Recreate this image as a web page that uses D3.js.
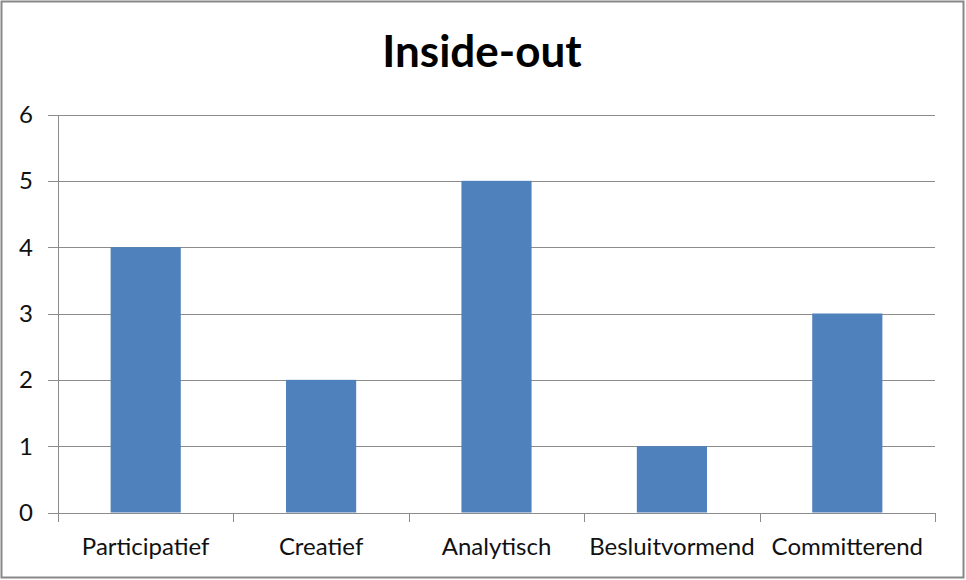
<!DOCTYPE html>
<html><head><meta charset="utf-8">
<script src="https://cdn.jsdelivr.net/npm/d3@7"></script>
<style>html,body{margin:0;padding:0;background:#fff;}</style>
</head><body>
<svg id="c" width="966" height="580"></svg>
<script>
const categories = ["Participatief","Creatief","Analytisch","Besluitvormend","Committerend"];
const values = [4,2,5,1,3];
const yTicks = [0,1,2,3,4,5,6];
const title = "Inside-out";

(function(){
const svg = d3.select("#c");
const W = 966, H = 580;
const pLeft = 58, pRight = 935, pTop = 114.5, pBottom = 512.5;

svg.append("rect").attr("x",1.5).attr("y",1.5).attr("width",W-4).attr("height",H-4)
  .attr("fill","#fff").attr("stroke","#888").attr("stroke-width",2);

const x = d3.scaleBand().domain(categories).range([pLeft,pRight]).paddingInner(0.6).paddingOuter(0.3);
const y = d3.scaleLinear().domain([0,6]).range([pBottom,pTop]);

svg.append("g").selectAll("line").data(yTicks).join("line")
  .attr("x1",48).attr("x2",pRight).attr("y1",d=>Math.round(y(d))+0.5).attr("y2",d=>Math.round(y(d))+0.5)
  .attr("stroke","#8c8c8c").attr("stroke-width",1);

svg.append("line").attr("x1",pLeft+0.5).attr("x2",pLeft+0.5).attr("y1",Math.round(pTop)).attr("y2",Math.round(pBottom)+0.5)
  .attr("stroke","#8c8c8c");

svg.append("g").selectAll("text").data(yTicks).join("text")
  .attr("x",33).attr("y",d=>y(d)).attr("dy","0.36em").attr("text-anchor","end")
  .attr("font-family","Lato, 'Open Sans', sans-serif").attr("font-size",24).attr("fill","#111")
  .text(d=>d);

svg.append("g").selectAll("rect").data(values).join("rect")
  .attr("x",(d,i)=>x(categories[i])).attr("width",x.bandwidth())
  .attr("y",d=>y(d)).attr("height",d=>y(0)-y(d))
  .attr("fill","#4F81BD");

const step = x.step();
const tickX = d3.range(categories.length+1).map(i=>pLeft + i*step);
svg.append("g").selectAll("line").data(tickX).join("line")
  .attr("x1",d=>Math.round(d)+0.5).attr("x2",d=>Math.round(d)+0.5)
  .attr("y1",Math.round(pBottom)).attr("y2",Math.round(pBottom)+9)
  .attr("stroke","#8c8c8c");
svg.append("line").attr("x1",pLeft).attr("x2",pRight+0.5)
  .attr("y1",Math.round(pBottom)+0.5).attr("y2",Math.round(pBottom)+0.5).attr("stroke","#8c8c8c");

svg.append("g").selectAll("text").data(categories).join("text")
  .attr("x",d=>x(d)+x.bandwidth()/2).attr("y",555).attr("text-anchor","middle")
  .attr("font-family","Lato, 'Open Sans', sans-serif").attr("font-size",24).attr("fill","#111")
  .text(d=>d);

svg.append("text").attr("x",482).attr("y",67).attr("text-anchor","middle")
  .attr("font-family","Lato, 'Open Sans', sans-serif").attr("font-weight","bold").attr("font-size",44)
  .attr("fill","#000").text(title);
})();
</script>
</body></html>
